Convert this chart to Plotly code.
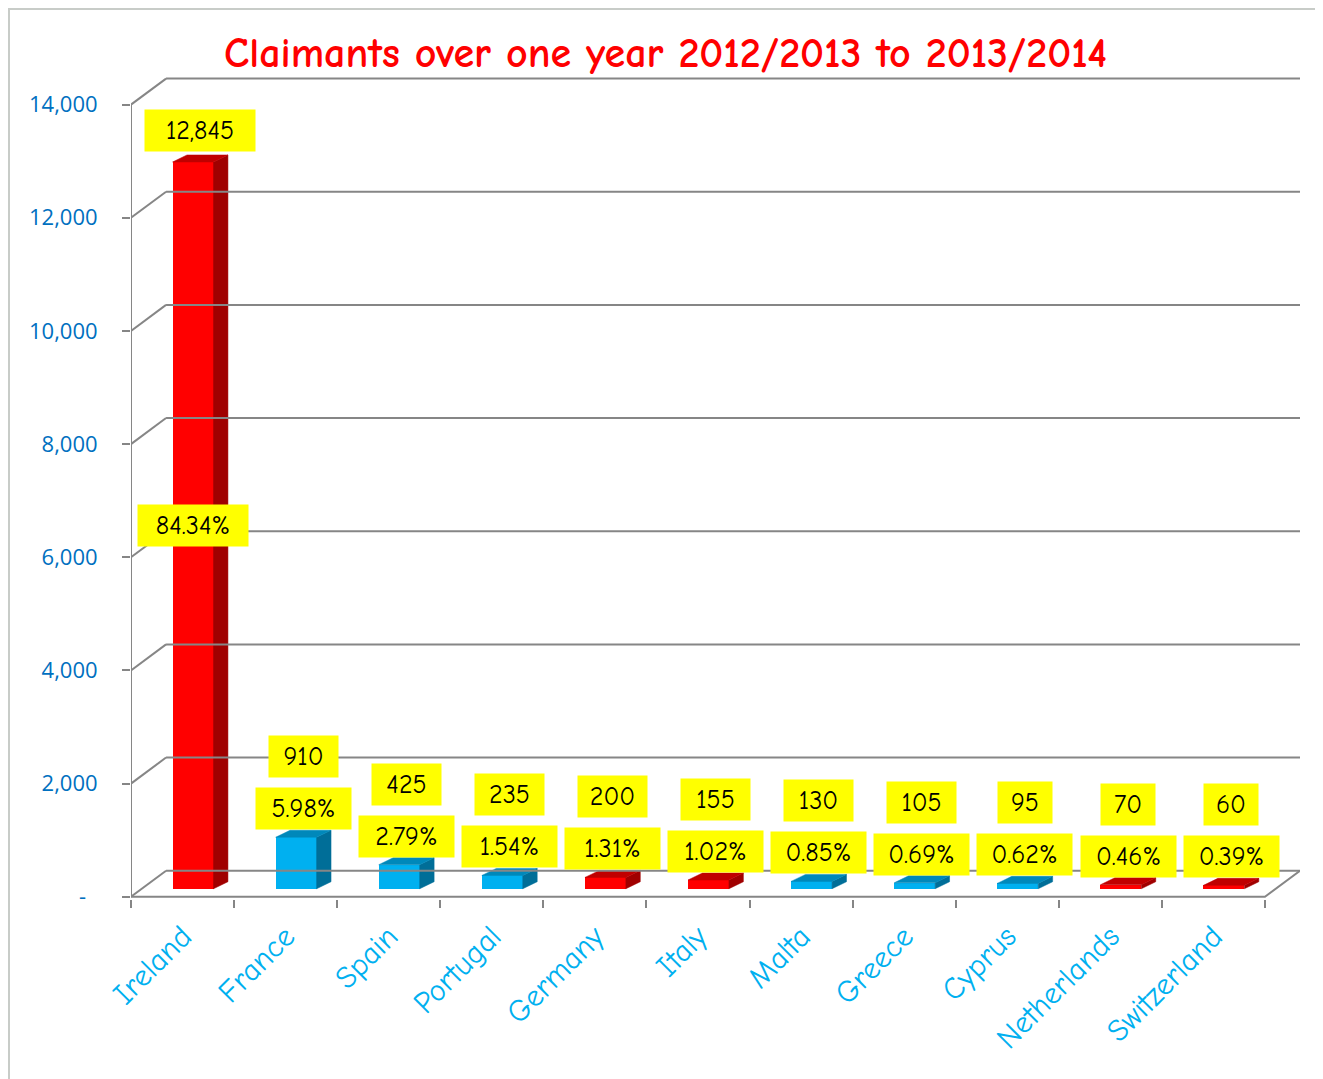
import plotly.graph_objects as go

# ---------------- data ----------------
countries = ["Ireland", "France", "Spain", "Portugal", "Germany", "Italy",
             "Malta", "Greece", "Cyprus", "Netherlands", "Switzerland"]
claimants = [12845, 910, 425, 235, 200, 155, 130, 105, 95, 70, 60]
shares = ["84.34%", "5.98%", "2.79%", "1.54%", "1.31%", "1.02%",
          "0.85%", "0.69%", "0.62%", "0.46%", "0.39%"]
colour_group = ["red", "blue", "blue", "blue", "red", "red",
                "blue", "blue", "blue", "red", "red"]
y_ticks = [0, 2000, 4000, 6000, 8000, 10000, 12000, 14000]
y_tick_labels = ["-\u00a0\u00a0", "2,000", "4,000", "6,000", "8,000",
                 "10,000", "12,000", "14,000"]
title_text = "Claimants over one year 2012/2013 to 2013/2014"

# ---------------- style ----------------
FONT = "Comic Sans MS, Comic Neue, Lato, sans-serif"
PALETTE = {"red": ("#FF0000", "#A00000", "#C00000"),
           "blue": ("#00B0F0", "#006E98", "#0088BA")}
GRID = "#868686"
N = len(countries)
BAR_OFF = 0.602      # front-face centre inside each category slot
BAR_W = 0.397
SIDE_DX = 0.14       # depth of bar (x units)
SIDE_DY = 124        # depth of bar (y units)
BASE = 141           # bars stand at mid depth
WALL_DX = 0.34       # back-wall offset
WALL_DY = 460
XMAX = N + WALL_DX

W, H = 1315, 1071          # page body has an 8px margin
ML, MR, MT, MB = 123, 23, 57, 180
PW, PH = W - ML - MR, H - MT - MB

fig = go.Figure()

# back wall grid + diagonals + front edges
gx, gy = [], []
for t in y_ticks:
    gx += [WALL_DX, XMAX, None, 0, WALL_DX, None]
    gy += [t + WALL_DY, t + WALL_DY, None, t, t + WALL_DY, None]
gx += [0, 0, None, 0, N, WALL_DX + N, None]
gy += [0, y_ticks[-1], None, 0, 0, WALL_DY, None]
fig.add_trace(go.Scatter(x=gx, y=gy, mode="lines", xaxis="x2",
                         line=dict(color=GRID, width=2), hoverinfo="skip",
                         showlegend=False))

xs = [i + BAR_OFF for i in range(N)]

# side and top faces
for x, v, g in zip(xs, claimants, colour_group):
    front, side, top = PALETTE[g]
    x0, x1 = x - BAR_W / 2, x + BAR_W / 2
    b, h = BASE, BASE + v
    fig.add_trace(go.Scatter(
        x=[x1, x1 + SIDE_DX, x1 + SIDE_DX, x1, x1],
        y=[b, b + SIDE_DY, h + SIDE_DY, h, b],
        fill="toself", fillcolor=side, mode="lines",
        line=dict(color=side, width=0.5), hoverinfo="skip", showlegend=False))
    fig.add_trace(go.Scatter(
        x=[x0, x0 + SIDE_DX, x1 + SIDE_DX, x1, x0],
        y=[h, h + SIDE_DY, h + SIDE_DY, h, h],
        fill="toself", fillcolor=top, mode="lines",
        line=dict(color=top, width=0.5), hoverinfo="skip", showlegend=False))

# front faces
fig.add_trace(go.Bar(
    x=xs, y=claimants, base=[BASE] * N, width=BAR_W,
    marker=dict(color=[PALETTE[g][0] for g in colour_group], line=dict(width=0)),
    showlegend=False, hovertext=countries))

# labels
annotations = []
vmax = max(claimants)
for x, v, s in zip(xs, claimants, shares):
    vt = f"{v:,}"
    cx = x + SIDE_DX / 2
    common = dict(xref="x", yref="y", showarrow=False, bgcolor="#FFFF00",
                  font=dict(family=FONT, size=26, color="#000000"),
                  borderpad=4, height=33)
    top_y = BASE + v + SIDE_DY
    if v > 0.3 * vmax:
        annotations.append(dict(x=cx, y=top_y, text=vt, yanchor="bottom", yshift=3,
                                width=15 * len(vt) + 12, **common))
        annotations.append(dict(x=x, y=BASE + v / 2, text=s, yanchor="middle",
                                width=15 * len(s) + 12, **common))
    else:
        annotations.append(dict(x=cx, y=top_y, text=s, yanchor="bottom", yshift=0,
                                width=15 * len(s) + 12, **common))
        annotations.append(dict(x=cx, y=top_y, text=vt, yanchor="bottom", yshift=52,
                                width=15 * len(vt) + 16, **common))

fig.update_layout(
    width=W, height=H,
    margin=dict(l=ML, r=MR, t=MT, b=MB),
    paper_bgcolor="white", plot_bgcolor="white",
    title=dict(text="<b>" + title_text + "</b>", x=0.5, xref="container",
               xanchor="center", y=1 - 44 / H, yref="container", yanchor="middle",
               font=dict(family=FONT, size=42, color="#FF0000")),
    xaxis=dict(range=[0, XMAX], tickvals=[i + 0.5 for i in range(N)],
               ticktext=countries, tickangle=-45, showgrid=False, zeroline=False,
               showline=False, ticks="", ticklabelstandoff=12,
               tickfont=dict(family=FONT, size=31, color="#00B0F0")),
    xaxis2=dict(range=[0, XMAX], overlaying="x", anchor="y", side="bottom",
                tickvals=list(range(N + 1)), ticks="outside", ticklen=8,
                tickwidth=2, tickcolor=GRID, showticklabels=False,
                showgrid=False, zeroline=False, showline=False),
    yaxis=dict(range=[-40, 14700], tickvals=y_ticks, ticktext=y_tick_labels,
               showgrid=False, zeroline=False, showline=False,
               ticks="outside", ticklen=8, tickwidth=2, tickcolor=GRID,
               ticklabelstandoff=20,
               tickfont=dict(family="Open Sans, sans-serif", size=22, color="#0070C0")),
    annotations=annotations,
    shapes=[dict(type="rect", xref="paper", yref="paper",
                 x0=(1 - ML) / PW, x1=(1310 - ML) / PW,
                 y0=-0.35, y1=(PH + MT - 1) / PH,
                 line=dict(color="#C8CCC8", width=2), fillcolor="rgba(0,0,0,0)",
                 layer="below")],
    bargap=0,
)

fig.write_html("out.html")
